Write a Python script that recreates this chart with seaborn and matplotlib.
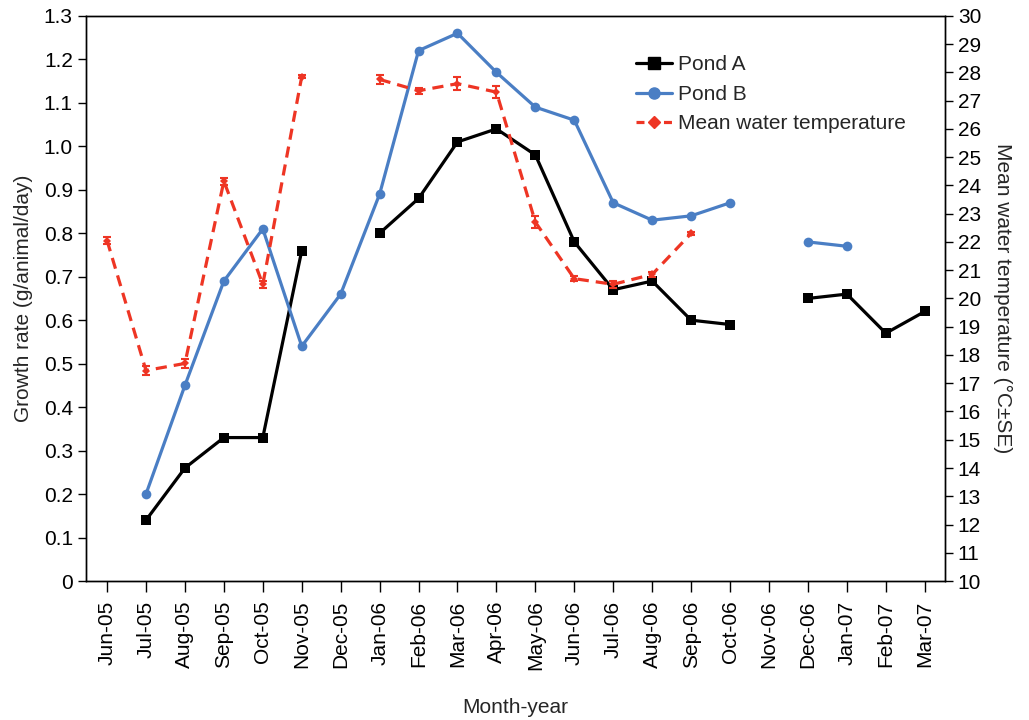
import numpy as np
import pandas as pd
import seaborn as sns
import matplotlib.pyplot as plt
from matplotlib.lines import Line2D

sns.set_style("ticks")
plt.rcParams['font.family'] = ['Liberation Sans', 'DejaVu Sans']

# data
months = ["Jun-05", "Jul-05", "Aug-05", "Sep-05", "Oct-05", "Nov-05", "Dec-05",
          "Jan-06", "Feb-06", "Mar-06", "Apr-06", "May-06", "Jun-06", "Jul-06",
          "Aug-06", "Sep-06", "Oct-06", "Nov-06", "Dec-06", "Jan-07", "Feb-07", "Mar-07"]
nan = np.nan
pond_a = [nan, 0.14, 0.26, 0.33, 0.33, 0.76, nan, 0.80, 0.88, 1.01, 1.04, 0.98,
          0.78, 0.67, 0.69, 0.60, 0.59, nan, 0.65, 0.66, 0.57, 0.62]
pond_b = [nan, 0.20, 0.45, 0.69, 0.81, 0.54, 0.66, 0.89, 1.22, 1.26, 1.17, 1.09,
          1.06, 0.87, 0.83, 0.84, 0.87, nan, 0.78, 0.77, nan, nan]
temp = [22.05, 17.45, 17.7, 24.15, 20.5, 27.85, nan, 27.75, 27.35, 27.6, 27.3, 22.7,
        20.7, 20.5, 20.85, 22.3, nan, nan, nan, nan, nan, nan]
temp_se = [0.12, 0.15, 0.15, 0.12, 0.12, 0.05, nan, 0.15, 0.1, 0.22, 0.2, 0.2,
           0.1, 0.12, 0.1, 0.05, nan, nan, nan, nan, nan, nan]


def segments(vals):
    # split a series at missing values so seaborn doesn't bridge the gaps
    df = pd.DataFrame({"x": np.arange(len(vals)), "y": vals})
    df["seg"] = df["y"].isna().cumsum()
    return df.dropna()


black = "#000000"
blue = "#4A7EC4"
red = "#EE3524"

fig = plt.figure(figsize=(10.29, 7.2), dpi=100)
ax = fig.add_axes([0.0836, 0.193, 0.8344, 0.785])

sns.lineplot(data=segments(pond_a), x="x", y="y", units="seg", estimator=None,
             color=black, lw=2.3, marker="s", markersize=6.5, markeredgewidth=0, ax=ax)
sns.lineplot(data=segments(pond_b), x="x", y="y", units="seg", estimator=None,
             color=blue, lw=2.3, marker="o", markersize=7, markeredgewidth=0, ax=ax)

ax2 = ax.twinx()
tdf = segments(temp)
sns.lineplot(data=tdf, x="x", y="y", units="seg", estimator=None,
             color=red, lw=2.3, ls=(0, (3.5, 2.2)), marker="D", markersize=4,
             markeredgewidth=0, ax=ax2)
se = pd.Series(temp_se).dropna().values
ax2.errorbar(tdf["x"], tdf["y"], yerr=se, fmt="none", ecolor=red, elinewidth=1.5,
             capsize=3, capthick=1.5)

ax.set_xlim(-0.54, 21.51)
ax.set_ylim(0, 1.3)
ax.set_yticks(np.arange(0, 1.31, 0.1))
ax.set_yticklabels(["0"] + [f"{v:.1f}" for v in np.arange(0.1, 1.31, 0.1)])
ax.set_xticks(range(len(months)))
ax.set_xticklabels(months, rotation=90)
ax2.set_ylim(10, 30)
ax2.set_yticks(range(10, 31))

for a in (ax, ax2):
    a.tick_params(labelsize=15, direction="out", length=6, width=1, colors="black")
    for s in a.spines.values():
        s.set_color("black")
        s.set_linewidth(1)
ax.tick_params(axis="x", length=8, pad=6)

ax.set_xlabel("Month-year", fontsize=15, labelpad=20)
ax.set_ylabel("Growth rate (g/animal/day)", fontsize=15, labelpad=8)
ax2.set_ylabel("Mean water temperature (\u00b0C\u00b1SE)", fontsize=15,
               rotation=270, labelpad=22)

handles = [
    Line2D([], [], color=black, lw=2.3, marker="s", markersize=8),
    Line2D([], [], color=blue, lw=2.3, marker="o", markersize=8),
    Line2D([], [], color=red, lw=2.3, ls=(0, (2.5, 1.8)), marker="D", markersize=6),
]
ax2.legend(handles, ["Pond A", "Pond B", "Mean water temperature"],
           loc="upper left", bbox_to_anchor=(0.641, 0.93), frameon=False,
           borderaxespad=0, borderpad=0,
           fontsize=15, handlelength=1.7, handletextpad=0.3, labelspacing=0.5)

fig.savefig("out.png", dpi=100)
